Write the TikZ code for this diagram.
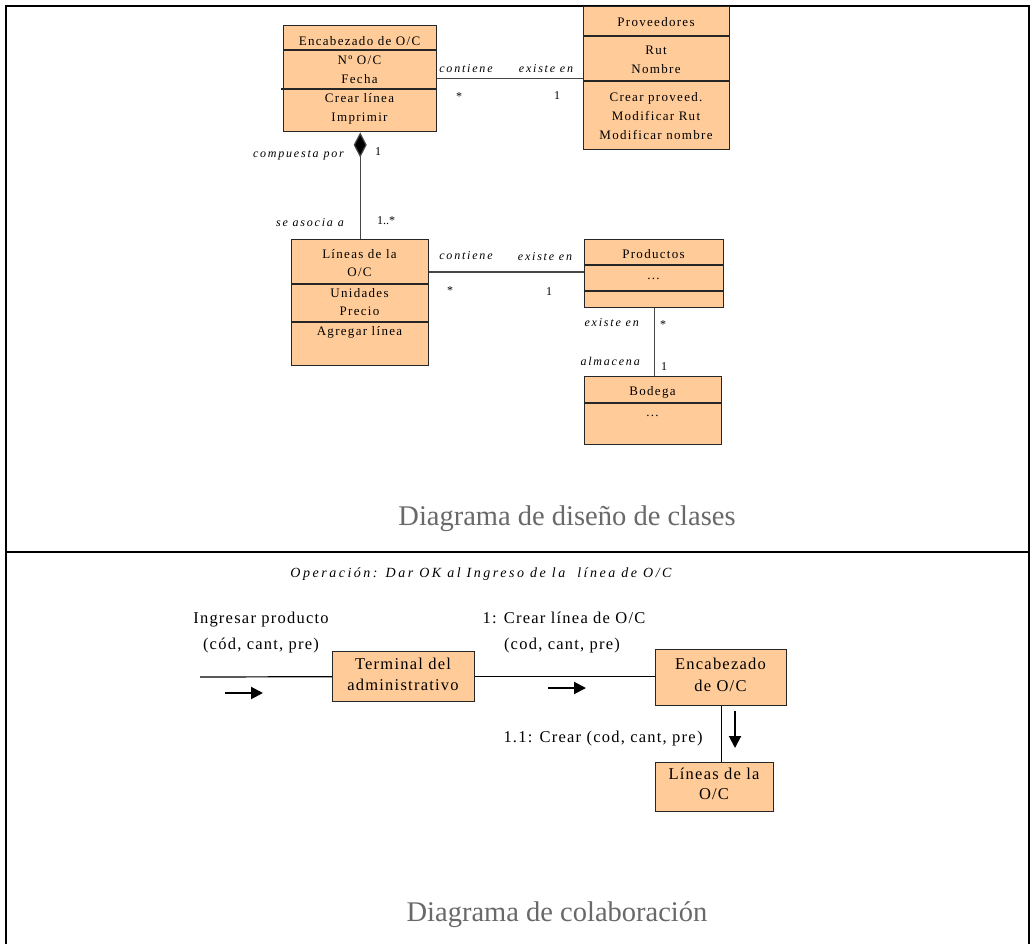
\documentclass[tikz,border=0pt]{standalone}
\usepackage{fontspec}
\setmainfont{Liberation Serif}
\newfontfamily\clsfont[LetterSpace=10]{Liberation Serif}
\newfontfamily\lblfont[LetterSpace=15]{Liberation Serif}
\newfontfamily\opfont[LetterSpace=18]{Liberation Serif}
\newfontfamily\colfont[LetterSpace=7.5]{Liberation Serif}
\usetikzlibrary{arrows.meta}
\definecolor{peach}{RGB}{255,204,153}
\definecolor{titlegray}{RGB}{105,105,105}
\definecolor{linkgray}{RGB}{70,70,70}
\tikzset{
  classbox/.style={draw=black!85, line width=1.4pt, fill=peach, inner sep=0pt, anchor=north west},
  divider/.style={draw=black!85, line width=1.4pt},
  ctext/.style={font=\clsfont\fontsize{13}{13}\selectfont, inner sep=0pt, text height=0.7em, text depth=0.2em},
  role/.style={font=\lblfont\itshape\fontsize{12}{12}\selectfont, inner sep=0pt, text height=0.7em, text depth=0.2em},
  mult/.style={font=\fontsize{12}{12}\selectfont, inner sep=0pt, text height=0.7em, text depth=0.2em},
  link/.style={draw=linkgray, line width=1.2pt},
  colbox/.style={draw=black!85, line width=1.4pt, fill=peach, inner sep=0pt, anchor=north west},
  coltext/.style={font=\colfont\fontsize{16.5}{16.5}\selectfont, inner sep=0pt, text height=0.7em, text depth=0.2em},
  optext/.style={font=\opfont\itshape\fontsize{14}{14}\selectfont, inner sep=0pt, text height=0.7em, text depth=0.2em},
  msgarrow/.style={draw=black, line width=2pt, -{Triangle[length=12pt,width=12pt]}},
  caption/.style={font=\fontsize{28.5}{30}\selectfont, text=titlegray, inner sep=0pt},
  frame/.style={draw=black, line width=2.2pt}
}
\begin{document}
\begin{tikzpicture}[x=1pt,y=-1pt]
\useasboundingbox (0,0) rectangle (1031,944);
\fill[white] (0,0) rectangle (1031,944);

% outer frame and the divider between the two diagrams
\draw[frame] (6,944) -- (6,6) -- (1029,6) -- (1029,944);
\draw[frame] (6,552) -- (1029,552);

% ---------------- class design diagram ----------------
% Encabezado de O/C
\node[classbox, minimum width=153pt, minimum height=106pt] (enc) at (283,25) {};
\draw[divider] (283,50) -- (436,50);
\draw[divider] (281,89) -- (436,89);
\node[ctext] (enc-n) at (359.5,43) {Encabezado de O/C};
\node[ctext] (enc-a1) at (359.5,62) {Nº O/C};
\node[ctext] (enc-a2) at (359.5,81) {Fecha};
\node[ctext] (enc-o1) at (359.5,100) {Crear línea};
\node[ctext] (enc-o2) at (359.5,119) {Imprimir};

% Proveedores
\node[classbox, minimum width=146pt, minimum height=143pt] (prov) at (583,6) {};
\draw[divider] (583,36) -- (729,36);
\draw[divider] (583,81) -- (729,81);
\node[ctext] (prov-n) at (656,24) {Proveedores};
\node[ctext] (prov-a1) at (656,52) {Rut};
\node[ctext] (prov-a2) at (656,71) {Nombre};
\node[ctext] (prov-o1) at (656,99) {Crear proveed.};
\node[ctext] (prov-o2) at (656,118) {Modificar Rut};
\node[ctext] (prov-o3) at (656,137) {Modificar nombre};

% Líneas de la O/C
\node[classbox, minimum width=137pt, minimum height=126pt] (lin) at (291,239) {};
\draw[divider] (291,284) -- (428,284);
\draw[divider] (291,322) -- (428,322);
\node[ctext] (lin-n1) at (359.5,256) {Líneas de la};
\node[ctext] (lin-n2) at (359.5,274) {O/C};
\node[ctext] (lin-a1) at (359.5,295) {Unidades};
\node[ctext] (lin-a2) at (359.5,313) {Precio};
\node[ctext] (lin-o1) at (359.5,333) {Agregar línea};

% Productos
\node[classbox, minimum width=139pt, minimum height=68pt] (prod) at (584,239) {};
\draw[divider] (584,265) -- (723,265);
\draw[divider] (584,291) -- (723,291);
\node[ctext] (prod-n) at (653.5,256) {Productos};
\node[ctext] (prod-a) at (653.5,277) {...};

% Bodega
\node[classbox, minimum width=137pt, minimum height=68pt] (bod) at (584,376) {};
\draw[divider] (584,403) -- (721,403);
\node[ctext] (bod-n) at (652.5,393) {Bodega};
\node[ctext] (bod-a) at (652.5,414) {...};

% associations
\draw[link] (enc.east) -- (enc.east -| prov.west);
\node[role] (r1) at (466,70) {contiene};
\node[role] (r2) at (546,70) {existe en};
\node[mult] (m1) at (459,98) {*};
\node[mult] (m2) at (557,97) {1};

\draw[link, -{Diamond[length=25pt,width=13pt,fill=black]}] (lin.north) -- (enc.south);
\node[role, anchor=east] (r3) at (344,155) {compuesta por};
\node[mult] (m3) at (378,153) {1};
\node[role, anchor=east] (r4) at (344,224) {se asocia a};
\node[mult] (m4) at (386,222) {1..*};

\draw[link] ([yshift=-33pt]lin.north east) -- ([yshift=-33pt]lin.north east -| prod.west);
\node[role] (r5) at (466,257) {contiene};
\node[role] (r6) at (545,258) {existe en};
\node[mult] (m5) at (450,292) {*};
\node[mult] (m6) at (549,293) {1};

\draw[link] (prod.south) -- (prod.south |- bod.north);
\node[role, anchor=east] (r7) at (639,324) {existe en};
\node[mult] (m7) at (663,326) {*};
\node[role, anchor=east] (r8) at (640,363) {almacena};
\node[mult] (m8) at (664,368) {1};

\node[caption] (cap1) at (567,519) {Diagrama de diseño de clases};

% ---------------- collaboration diagram ----------------
\node[optext] (op) at (481,575) {Operación: Dar OK al Ingreso de la\ \ línea de O/C};

\node[colbox, minimum width=142pt, minimum height=50pt] (term) at (332,651) {};
\node[coltext] (term-t1) at (403,667) {Terminal del};
\node[coltext] (term-t2) at (403,688) {administrativo};

\node[colbox, minimum width=131pt, minimum height=56pt] (enc2) at (655,649) {};
\node[coltext] (enc2-t1) at (720.5,667) {Encabezado};
\node[coltext] (enc2-t2) at (720.5,689) {de O/C};

\node[colbox, minimum width=118pt, minimum height=49pt] (lin2) at (655,762) {};
\node[coltext] (lin2-t1) at (714,777) {Líneas de la};
\node[coltext] (lin2-t2) at (714,797) {O/C};

\coordinate (in) at (200,677);
\draw[link, draw=black] (in) -- (term.west);
\draw[link, draw=black] (term.east) -- (term.east -| enc2.west);
\draw[link, draw=black] (enc2.south) -- (enc2.south |- lin2.north);

\node[coltext] (msg0a) at (261,621) {Ingresar producto};
\node[coltext] (msg0b) at (261,647) {(cód, cant, pre)};
\coordinate (a0s) at (225,693);
\coordinate (a0e) at (263,693);
\draw[msgarrow] (a0s) -- (a0e);

\node[coltext] (msg1a) at (564,621) {1: Crear línea de O/C};
\node[coltext] (msg1b) at (562,647) {(cod, cant, pre)};
\coordinate (a1s) at (548,688);
\coordinate (a1e) at (586,688);
\draw[msgarrow] (a1s) -- (a1e);

\node[coltext] (msg2) at (603,740) {1.1: Crear (cod, cant, pre)};
\coordinate (a2s) at (735,711);
\coordinate (a2e) at (735,748);
\draw[msgarrow] (a2s) -- (a2e);

\node[caption] (cap2) at (557,915) {Diagrama de colaboración};
\end{tikzpicture}
\end{document}
